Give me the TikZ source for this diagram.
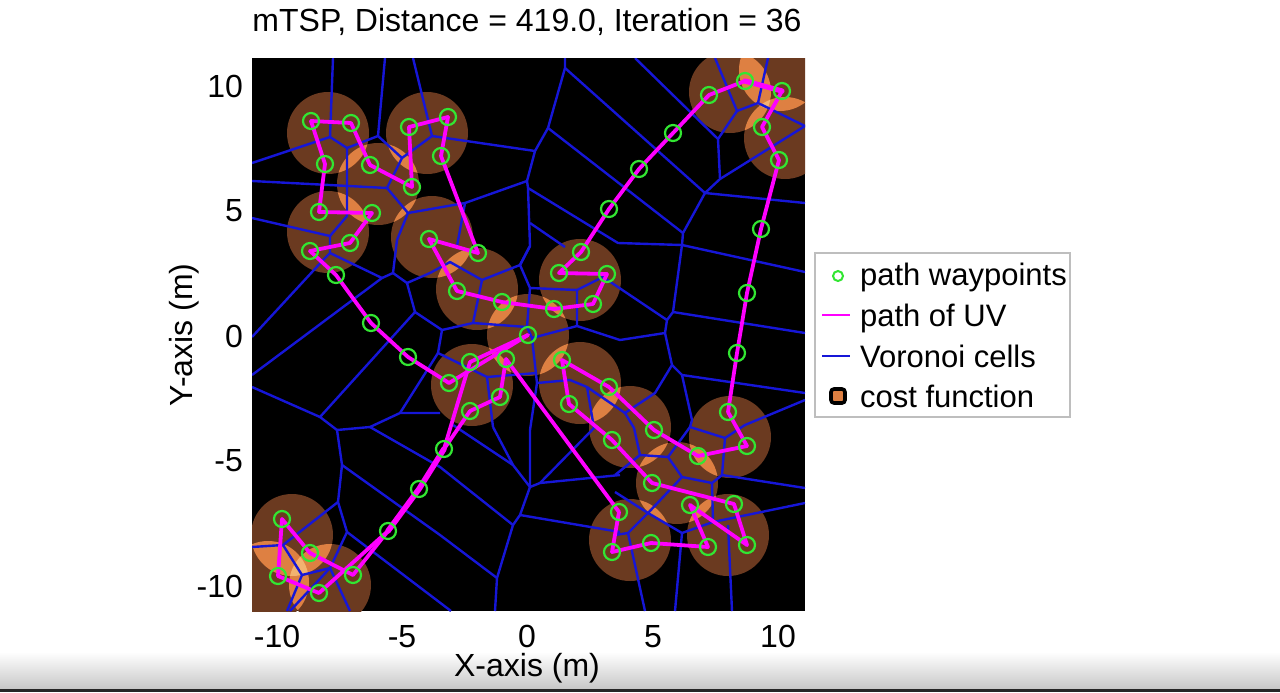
\documentclass[tikz,border=0pt]{standalone}
\usepackage{fontspec}
\setmainfont{Liberation Sans}
\definecolor{disc}{RGB}{107,58,32}
\definecolor{lens}{RGB}{222,128,66}
\definecolor{lensb}{RGB}{242,178,112}
\definecolor{vblue}{RGB}{22,22,215}
\definecolor{uvmag}{RGB}{255,0,255}
\definecolor{wpgreen}{RGB}{50,230,50}
\definecolor{legframe}{RGB}{190,190,190}
\begin{document}
\begin{tikzpicture}[x=0.5pt,y=-0.5pt,
  vor/.style={vblue,line width=1.2pt,line join=round},
  uvpath/.style={uvmag,line width=1.9pt,line cap=round,line join=round},
  wp/.style={circle,draw=wpgreen,line width=1.1pt,minimum size=8pt,inner sep=0pt},
  lbl/.style={font=\fontsize{16}{19}\selectfont,text=black},
  leg/.style={font=\fontsize{15.5}{19}\selectfont,text=black},
  tick/.style={font=\fontsize{16}{19}\selectfont,text=black}]
\useasboundingbox (0,0) rectangle (1280,692);
\fill[white] (0,0) rectangle (1280,692);
\shade[top color=white,bottom color=black!22] (0,652) rectangle (1280,689);
\fill[black!85] (0,689) rectangle (1280,692);
% plot area
\fill[black] (252,58) rectangle (805,611);
\def\discs{328/133,427/133,378/184,328/232,432/237,477/289,580/280,528/335,472/385,580/383,630/427,730/437,677/483,630/540,728/535,730/92,780/70,785/138,292/535,268/582,330/585}
\def\R{41}
\begin{scope}
\clip (252,58) rectangle (805,611);
\foreach \ax/\ay in \discs {\fill[disc] (\ax,\ay) circle[radius=\R];}
\foreach \ax/\ay [count=\i] in \discs {
  \foreach \bx/\by [count=\j] in \discs {
    \ifnum\j>\i
      \pgfmathtruncatemacro\ok{(((\ax-\bx)/10)^2+((\ay-\by)/10)^2)<67.24 ? 1 : 0}
      \ifnum\ok=1
        \begin{scope}\clip (\ax,\ay) circle[radius=\R]; \fill[lens] (\bx,\by) circle[radius=\R];\end{scope}
      \fi
    \fi
  }
}
% triple overlaps
\foreach \ax/\ay/\bx/\by/\cx/\cy in {730/92/780/70/785/138, 292/535/268/582/330/585}{
  \begin{scope}\clip (\ax,\ay) circle[radius=\R]; \clip (\bx,\by) circle[radius=\R]; \fill[lensb] (\cx,\cy) circle[radius=\R];\end{scope}
}
% Voronoi cells
\draw[vor] (333,58)--(330,137);
\draw[vor] (252,163)--(330,137)--(347,148)--(378,136)--(385,58);
\draw[vor] (378,136)--(402,158);
\draw[vor] (413,58)--(432,136)--(535,151);
\draw[vor] (432,136)--(402,158)--(387,188)--(252,181);
\draw[vor] (347,148)--(347,216)--(330,236);
\draw[vor] (252,218)--(330,236)--(330,253)--(325,258)--(252,337);
\draw[vor] (330,253)--(382,278);
\draw[vor] (387,188)--(408,213)--(465,203)--(527,181);
\draw[vor] (408,213)--(397,240);
\draw[vor] (565,58)--(565,68)--(548,128)--(535,151)--(527,181)--(528,188)--(530,246)--(520,265);
\draw[vor] (565,68)--(705,193);
\draw[vor] (548,128)--(683,233);
\draw[vor] (528,188)--(618,243)--(682,245)--(805,272);
\draw[vor] (530,223)--(565,247);
\draw[vor] (465,203)--(457,246);
\draw[vor] (635,58)--(718,139)--(720,179)--(705,193)--(683,233)--(682,245);
\draw[vor] (715,58)--(737,111)--(758,103)--(768,58);
\draw[vor] (737,111)--(718,139);
\draw[vor] (758,103)--(805,126);
\draw[vor] (720,179)--(805,126);
\draw[vor] (705,193)--(805,203);
\draw[vor] (682,245)--(673,312)--(667,320)--(665,333)--(672,365)--(655,393)--(625,413)--(587,387);
\draw[vor] (625,413)--(634,428)--(640,455);
\draw[vor] (673,312)--(805,333);
\draw[vor] (577,290)--(603,277)--(667,320);
\draw[vor] (532,338)--(577,326)--(620,340)--(665,333);
\draw[vor] (672,365)--(682,375)--(692,420)--(690,427)--(668,457);
\draw[vor] (690,427)--(725,438);
\draw[vor] (682,375)--(805,393);
\draw[vor] (252,375)--(382,278)--(393,273)--(397,240);
\draw[vor] (393,273)--(407,283)--(415,312)--(442,330);
\draw[vor] (407,283)--(430,273);
\draw[vor] (415,312)--(320,417);
\draw[vor] (252,387)--(320,417)--(337,430)--(370,427)--(400,413)--(440,413);
\draw[vor] (438,353)--(400,413);
\draw[vor] (430,273)--(450,262)--(482,280)--(520,265)--(530,246);
\draw[vor] (520,265)--(530,288)--(527,327)--(532,338)--(537,383)--(530,430);
\draw[vor] (530,288)--(577,290)--(577,326);
\draw[vor] (482,280)--(473,323)--(442,330);
\draw[vor] (473,323)--(527,327);
\draw[vor] (442,330)--(438,353)--(487,377)--(493,427);
\draw[vor] (487,377)--(537,373);
\draw[vor] (537,383)--(570,380)--(587,387)--(594,428)--(540,483);
\draw[vor] (337,430)--(342,465)--(338,502)--(347,532)--(330,568)--(290,611);
\draw[vor] (342,465)--(440,535)--(497,578);
\draw[vor] (338,502)--(283,545)--(252,547);
\draw[vor] (347,532)--(451,611);
\draw[vor] (283,545)--(302,575)--(287,611);
\draw[vor] (302,575)--(330,568)--(350,611);
\draw[vor] (370,427)--(440,467)--(513,525)--(497,578)--(495,611);
\draw[vor] (513,525)--(520,515)--(530,487)--(530,430);
\draw[vor] (530,487)--(540,483)--(620,475);
\draw[vor] (493,427)--(513,465)--(530,487);
\draw[vor] (453,425)--(513,465);
\draw[vor] (520,515)--(620,532);
\draw[vor] (640,455)--(615,475);
\draw[vor] (640,455)--(668,457)--(682,477)--(712,483)--(722,475)--(725,438)--(745,425)--(805,400);
\draw[vor] (722,475)--(805,488);
\draw[vor] (712,483)--(713,522)--(682,533)--(648,513)--(628,533)--(615,535);
\draw[vor] (648,513)--(615,492);
\draw[vor] (682,477)--(648,513);
\draw[vor] (713,522)--(805,503);
\draw[vor] (682,533)--(675,611);
\draw[vor] (728,525)--(732,611);
\draw[vor] (628,533)--(645,611);
\end{scope}
% waypoints
\foreach \n/\x/\y in {1/311/121,2/351/123,3/325/164,4/370/165,5/409/127,6/448/117,7/441/156,8/412/187,9/319/212,10/372/213,11/310/251,12/350/243,13/429/239,14/478/253,15/336/275,16/371/323,17/408/357,18/449/383,19/470/362,20/457/291,21/502/302,22/554/309,23/593/304,24/607/274,25/559/273,26/581/252,27/609/209,28/639/169,29/673/133,30/709/95,31/745/81,32/782/91,33/762/127,34/779/160,35/761/229,36/747/293,37/737/353,38/728/412,39/747/446,40/698/456,41/654/430,42/612/440,43/652/483,44/734/504,45/690/505,46/619/512,47/747/545,48/708/547,49/651/543,50/612/552,51/562/360,52/609/387,53/569/404,54/528/335,55/506/359,56/500/397,57/470/411,58/444/449,59/419/489,60/388/531,61/353/575,62/319/593,63/278/576,64/310/553,65/282/519}
  {\coordinate (p\n) at (\x,\y);}
\foreach \a/\b in {1/2,1/3,2/4,3/9,4/8,9/10,10/12,12/11,11/15,15/16,16/17,17/18,5/6,5/8,6/7,7/14,14/13,13/20,20/21,21/22,22/23,23/24,24/25,25/26,26/27,27/28,28/29,29/30,30/31,31/32,32/33,33/34,34/35,35/36,36/37,37/38,38/39,39/40,40/41,41/52,52/51,51/53,53/42,42/43,43/44,44/47,47/45,45/48,48/49,49/50,50/46,46/55,55/56,56/57,57/58,54/19,54/18,19/58,61/64,64/65,65/63,63/62,62/60,61/60}
  {\draw[uvpath] (p\a) -- (p\b);}
\draw[uvpath,line width=2.8pt] (p58) -- (p59) -- (p60);
\draw[uvpath,line width=2.6pt] (p31) -- (p32);
\foreach \n in {1,...,65} {\node[wp] (w\n) at (p\n) {};}
% axes text
\node[lbl,anchor=base] (title) at (527,31) {mTSP, Distance = 419.0, Iteration = 36};
\foreach \v/\x in {-10/277,-5/402,0/527,5/653,10/778} {\node[tick,anchor=base] (xt\x) at (\x,647) {\v};}
\foreach \v/\y in {10/86,5/211,0/336,-5/461,-10/586} {\node[tick,anchor=east] (yt\y) at (250,\y) {\v};}
\node[lbl,anchor=base] (xlab) at (527,676) {X-axis (m)};
\node[lbl,anchor=base,rotate=90] (ylab) at (192,335) {Y-axis (m)};
% legend
\draw[legframe,fill=white,line width=0.6pt] (815,253) rectangle (1070,417);
\node[circle,draw=wpgreen,line width=1pt,minimum size=5pt,inner sep=0pt] (lg1) at (838,276) {};
\coordinate (lg2a) at (822,315); \coordinate (lg2b) at (850,315);
\draw[uvmag,line width=1.3pt] (lg2a) -- (lg2b);
\coordinate (lg3a) at (822,356); \coordinate (lg3b) at (850,356);
\draw[vblue,line width=1.1pt] (lg3a) -- (lg3b);
\node[draw=black,fill=lens,line width=1.8pt,rounded corners=1.5pt,minimum size=7pt,inner sep=0pt] (lg4) at (838,396) {};
\node[leg,anchor=base west] (lt1) at (853,285) {path waypoints};
\node[leg,anchor=base west] (lt2) at (853,326) {path of UV};
\node[leg,anchor=base west] (lt3) at (853,367) {Voronoi cells};
\node[leg,anchor=base west] (lt4) at (853,407) {cost function};
\end{tikzpicture}
\end{document}
